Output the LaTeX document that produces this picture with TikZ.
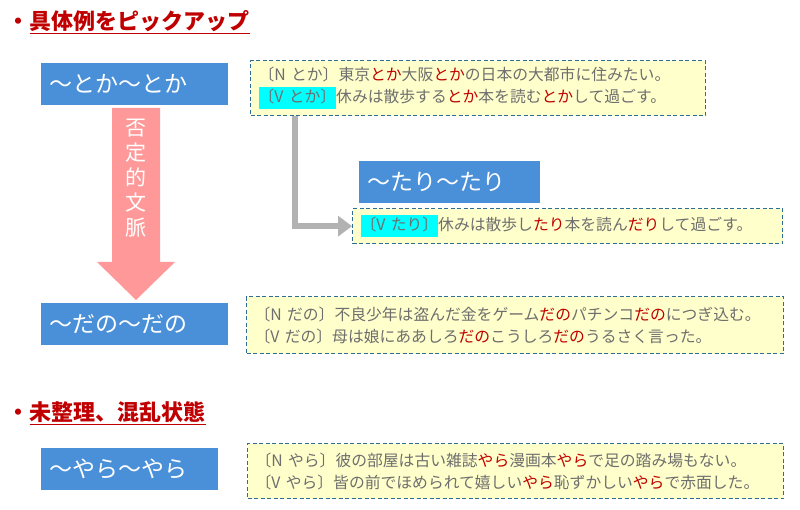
\documentclass[tikz,border=0pt]{standalone}
\usepackage{fontspec}
\setmainfont{Noto Sans CJK JP}
\usetikzlibrary{arrows.meta}
\definecolor{bbox}{HTML}{4A90D9}
\definecolor{ybg}{HTML}{FFFFCC}
\definecolor{ybd}{HTML}{2E6E96}
\definecolor{tgray}{HTML}{6E6E6E}
\definecolor{hred}{HTML}{C00000}
\definecolor{hcyan}{HTML}{00FFFF}
\definecolor{pinkc}{HTML}{FF9999}
\newcommand{\hr}[1]{\textcolor{hred}{#1}}
\newcommand{\hc}[1]{{\setlength{\fboxsep}{0pt}\colorbox{hcyan}{\strut #1}}}
\begin{document}
\begin{tikzpicture}[x=1pt,y=-1pt,
  blue/.style={fill=bbox,draw=white,text=white,font=\fontsize{23}{24}\selectfont,anchor=north west,inner xsep=9pt,inner ysep=0pt,align=left},
  ex/.style={fill=ybg,draw=ybd,dash pattern=on 4pt off 2.5pt,line width=1.3pt,text=tgray,font=\fontsize{15.8}{22}\selectfont,align=left,anchor=north west,inner xsep=8pt,inner ysep=0pt},
  ttl/.style={anchor=west,text=hred,font=\fontsize{22}{24}\selectfont\bfseries}]
\useasboundingbox (0,0) rectangle (800,510);
\node[ttl] (t1) at (4,22) {・\underline{具体例をピックアップ}};
\node[ttl] (t2) at (4,413) {・\underline{未整理、混乱状態}};
% pink arrow
\fill[pinkc] (112,108) -- (160,108) -- (160,262) -- (175,262) -- (136,300) -- (97,262) -- (112,262) -- cycle;
\node[text=white,font=\fontsize{21}{25}\selectfont,align=center] (neg) at (136,178) {否\\定\\的\\文\\脈};
\node[blue,text width=170pt,minimum height=43pt] (b1) at (40,62) {～とか～とか};
\node[blue,text width=164pt,minimum height=43pt] (b2) at (358,160) {～たり～たり};
\node[blue,text width=170pt,minimum height=43pt] (b3) at (40,302) {～だの～だの};
\node[blue,text width=160pt,minimum height=43pt] (b4) at (40,447) {～やら～やら};
\node[ex,text width=439pt,minimum height=55pt] (e1) at (250,60) {〔N とか〕東京\hr{とか}大阪\hr{とか}の日本の大都市に住みたい。\\\hc{〔V とか〕}休みは散歩する\hr{とか}本を読む\hr{とか}して過ごす。};
\node[ex,text width=414pt,minimum height=35pt] (e2) at (352,208) {\hc{〔V たり〕}休みは散歩し\hr{たり}本を読ん\hr{だり}して過ごす。};
\node[ex,text width=521pt,minimum height=57pt] (e3) at (246,296) {〔N だの〕不良少年は盗んだ金をゲーム\hr{だの}パチンコ\hr{だの}につぎ込む。\\〔V だの〕母は娘にああしろ\hr{だの}こうしろ\hr{だの}うるさく言った。};
\node[ex,text width=520pt,minimum height=55pt] (e4) at (247,443) {〔N やら〕彼の部屋は古い雑誌\hr{やら}漫画本\hr{やら}で足の踏み場もない。\\〔V やら〕皆の前でほめられて嬉しい\hr{やら}恥ずかしい\hr{やら}で赤面した。};
\coordinate (g1) at (295,116);
\draw[gray!60,line width=6pt,-{Triangle[length=14pt,width=20pt]}] (g1) |- (e2.west);
\end{tikzpicture}
\end{document}
